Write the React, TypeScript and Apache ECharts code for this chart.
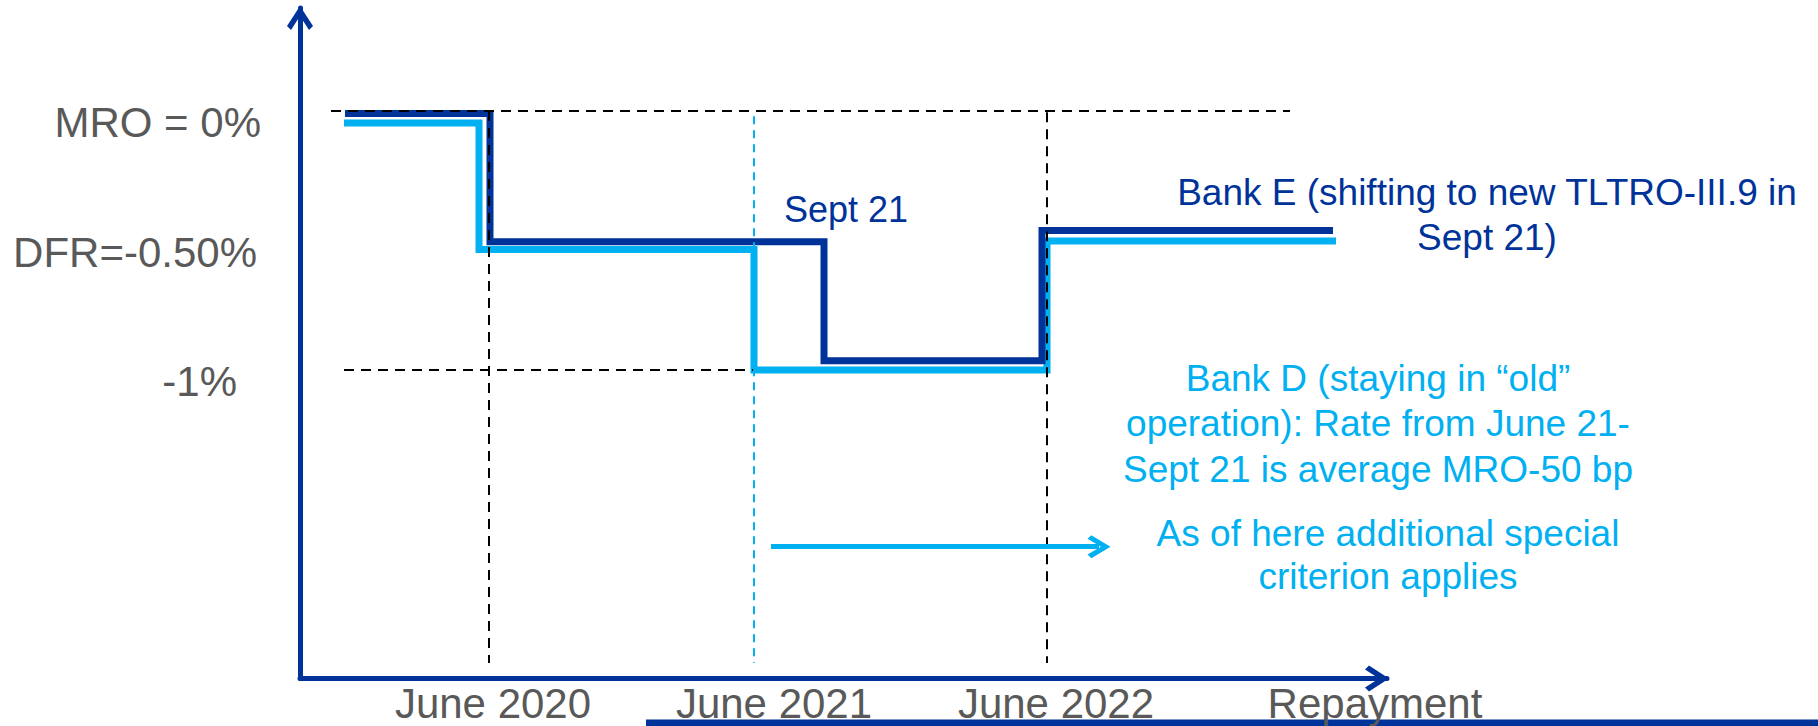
import React, { useEffect, useRef } from "react";
import * as echarts from "echarts";

// ---- data (schematic timeline units on x, policy-rate % on y) ----
const yTickValues = [0, -0.5, -1];
const yTickLabels = ["MRO = 0%", "DFR=-0.50%", "-1%"];
const yTickRightPad = [0, 4, 24];

const xTickValues = [19.3, 47.4, 75.6, 107.5];
const xTickLabels = ["June 2020", "June 2021", "June 2022", "Repayment"];

// Bank E (dark blue) step points
const bankEX = [4.5, 19.0, 52.4, 74.2, 103.3];
const bankEY = [-0.01, -0.505, -0.964, -0.461, -0.461];
// Bank D (light blue) step points
const bankDX = [4.4, 17.9, 45.4, 74.7, 103.6];
const bankDY = [-0.046, -0.535, -1.0, -0.502, -0.502];

// guide lines
const guideX = [18.9, 45.4, 74.7]; // June 2020, June 2021, June 2022
const guideTopY = [0, -0.02, -0.005];
const guideBottomY = -2.131;
const mroGuideX = [3.1, 99.0];
const minusOneGuideX = [4.4, 45.4];
// "As of here" arrow (start, and centre of the arrow head)
const arrowStart = [47.1, -1.682];
const arrowEnd = [79.9, -1.682];

const DARK = "#003399";
const LIGHT = "#00b0f0";
const GREY = "#595959";
const FONT = "'Liberation Sans', Arial, Helvetica, sans-serif";
const CHEVRON = "path://M13 0 L26 20 L22 24 L13 10 L4 24 L0 20 Z";

export default function App() {
  const ref = useRef<HTMLDivElement>(null);

  useEffect(() => {
    const chart = echarts.init(ref.current as HTMLDivElement, null, { renderer: "svg" });

    const blackDash = { type: [10, 7], color: "#000000", width: 2 };
    const lightDash = { type: [8, 6], color: LIGHT, width: 2 };

    const rich: Record<string, any> = {};
    yTickLabels.forEach((_, i) => {
      rich["k" + i] = {
        fontSize: 42,
        fontFamily: FONT,
        color: GREY,
        lineHeight: 42,
        padding: [0, yTickRightPad[i], 0, 0],
      };
    });

    const text = (
      str: string,
      x: number,
      y: number,
      color: string,
      size: number,
      lineHeight?: number
    ) => ({
      type: "text",
      x,
      y,
      silent: true,
      style: {
        text: str,
        fill: color,
        fontSize: size,
        fontFamily: FONT,
        lineHeight: lineHeight || size,
        align: "center",
        verticalAlign: "middle",
        textAlign: "center",
        textVerticalAlign: "middle",
      },
    });

    chart.setOption({
      animation: false,
      backgroundColor: "#ffffff",
      grid: {
        left: 300,
        right: 431,
        top: 8,
        bottom: 47.5,
        containLabel: false,
        outerBoundsMode: "none",
      },
      xAxis: {
        type: "value",
        min: 0,
        max: 108.7,
        axisLine: {
          show: true,
          onZero: false,
          lineStyle: { color: DARK, width: 5 },
          symbol: ["none", CHEVRON],
          symbolSize: [26, 24],
          symbolOffset: [0, -10],
        },
        axisTick: { show: false },
        splitLine: { show: false },
        axisLabel: {
          customValues: xTickValues,
          formatter: (v: number) => {
            const i = xTickValues.indexOf(v);
            return i >= 0 ? xTickLabels[i] : "";
          },
          color: GREY,
          fontSize: 42,
          fontFamily: FONT,
          lineHeight: 42,
          margin: 4,
        },
      },
      yAxis: {
        type: "value",
        min: -2.1911,
        max: 0.3977,
        axisLine: {
          show: true,
          onZero: false,
          lineStyle: { color: DARK, width: 5 },
          symbol: ["none", CHEVRON],
          symbolSize: [26, 24],
          symbolOffset: [0, -10],
        },
        axisTick: { show: false },
        splitLine: { show: false },
        axisLabel: {
          customValues: yTickValues,
          formatter: (v: number) => {
            const i = yTickValues.indexOf(v);
            return i >= 0 ? `{k${i}|${yTickLabels[i]}}` : "";
          },
          rich,
          color: GREY,
          fontSize: 42,
          fontFamily: FONT,
          margin: 39,
          padding: [23, 0, 0, 0],
        },
      },
      series: [
        {
          type: "line",
          name: "guides",
          data: [],
          silent: true,
          z: 1,
          markLine: {
            silent: true,
            symbol: ["none", "none"],
            label: { show: false },
            lineStyle: blackDash,
            data: [
              [{ coord: [mroGuideX[0], 0] }, { coord: [mroGuideX[1], 0] }],
              [{ coord: [minusOneGuideX[0], -1] }, { coord: [minusOneGuideX[1], -1] }],
              [{ coord: [guideX[0], guideTopY[0]] }, { coord: [guideX[0], guideBottomY] }],
              [
                { coord: [guideX[1], guideTopY[1]], lineStyle: lightDash },
                { coord: [guideX[1], guideBottomY], lineStyle: lightDash },
              ],
              [{ coord: [guideX[2], guideTopY[2]] }, { coord: [guideX[2], guideBottomY] }],
            ],
          },
        },
        {
          type: "line",
          name: "Bank D",
          step: "end",
          data: bankDX.map((x, i) => [x, bankDY[i]]),
          symbol: "none",
          silent: true,
          z: 3,
          lineStyle: { color: LIGHT, width: 7, cap: "butt", join: "miter" },
        },
        {
          type: "line",
          name: "Bank E",
          step: "end",
          data: bankEX.map((x, i) => [x, bankEY[i]]),
          symbol: "none",
          silent: true,
          z: 4,
          lineStyle: { color: DARK, width: 7, cap: "butt", join: "miter" },
        },
        {
          type: "line",
          name: "criterion arrow",
          data: [],
          silent: true,
          z: 5,
          markLine: {
            silent: true,
            symbol: ["none", CHEVRON],
            symbolSize: 23,
            label: { show: false },
            lineStyle: { type: "solid", color: LIGHT, width: 5 },
            data: [[{ coord: arrowStart }, { coord: arrowEnd }]],
          },
        },
      ],
      graphic: [
        text("Sept 21", 846, 209, DARK, 36),
        text("Bank E (shifting to new TLTRO-III.9 in\nSept 21)", 1487, 215, DARK, 37, 45),
        text(
          "Bank D (staying in \u201Cold\u201D\noperation): Rate from June 21-\nSept 21 is average MRO-50 bp",
          1378,
          423.5,
          LIGHT,
          37,
          45.5
        ),
        text("As of here additional special\ncriterion applies", 1388, 555, LIGHT, 37, 43),
        {
          type: "rect",
          silent: true,
          shape: { x: 646, y: 719.5, width: 1172, height: 6.5 },
          style: { fill: DARK },
        },
      ],
    });

    return () => chart.dispose();
  }, []);

  return (
    <div
      ref={ref}
      style={{ position: "fixed", left: 0, top: 0, width: 1818, height: 726, background: "#fff" }}
    />
  );
}
